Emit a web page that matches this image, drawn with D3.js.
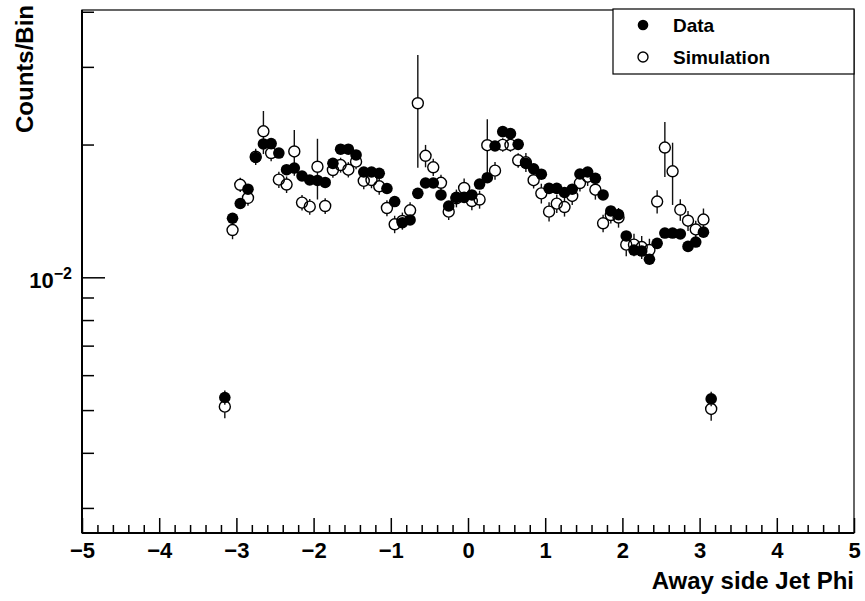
<!DOCTYPE html>
<html>
<head>
<meta charset="utf-8">
<script src="https://cdn.jsdelivr.net/npm/d3@7"></script>
<style>
  html, body { margin: 0; padding: 0; background: #fff; }
  svg { display: block; font-family: "Liberation Sans", Arial, Helvetica, sans-serif; font-weight: bold; }
</style>
</head>
<body>
<svg id="chart" width="865" height="601"></svg>
<script>
// Bin centres of the away-side jet phi histogram (64 bins of width 0.1)
const binCenters = [
  -3.15, -3.05, -2.95, -2.85, -2.75, -2.65, -2.55, -2.45, -2.35, -2.25,
  -2.15, -2.05, -1.95, -1.85, -1.75, -1.65, -1.55, -1.45, -1.35, -1.25,
  -1.15, -1.05, -0.95, -0.85, -0.75, -0.65, -0.55, -0.45, -0.35, -0.25,
  -0.15, -0.05,  0.05,  0.15,  0.25,  0.35,  0.45,  0.55,  0.65,  0.75,
   0.85,  0.95,  1.05,  1.15,  1.25,  1.35,  1.45,  1.55,  1.65,  1.75,
   1.85,  1.95,  2.05,  2.15,  2.25,  2.35,  2.45,  2.55,  2.65,  2.75,
   2.85,  2.95,  3.05,  3.15
];

// Data: counts per bin
const dataValues = [
  0.00534, 0.01361, 0.01470, 0.01584, 0.01869, 0.02006, 0.02010, 0.01913, 0.01754, 0.01769,
  0.01697, 0.01662, 0.01658, 0.01641, 0.01813, 0.01952, 0.01952, 0.01894, 0.01733, 0.01733,
  0.01721, 0.01590, 0.01485, 0.01330, 0.01349, 0.01550, 0.01636, 0.01636, 0.01537, 0.01451,
  0.01518, 0.01518, 0.01537, 0.01627, 0.01682, 0.01985, 0.02139, 0.02117, 0.02002, 0.01813,
  0.01762, 0.01713, 0.01591, 0.01591, 0.01557, 0.01584, 0.01715, 0.01733, 0.01677, 0.01537,
  0.01414, 0.01387, 0.01241, 0.01153, 0.01147, 0.01099, 0.01194, 0.01260, 0.01260, 0.01254,
  0.01175, 0.01202, 0.01266, 0.00530
];
const dataErrors = [
  0.0002, 0.0003, 0.0003, 0.0003, 0.0004, 0.0004, 0.0004, 0.0004, 0.0003, 0.0003,
  0.0003, 0.0003, 0.0003, 0.0003, 0.0003, 0.0004, 0.0004, 0.0003, 0.0003, 0.0003,
  0.0003, 0.0003, 0.0003, 0.0003, 0.0003, 0.0003, 0.0003, 0.0003, 0.0003, 0.0003,
  0.0003, 0.0003, 0.0003, 0.0003, 0.0003, 0.0004, 0.0004, 0.0004, 0.0004, 0.0003,
  0.0003, 0.0003, 0.0003, 0.0003, 0.0003, 0.0003, 0.0003, 0.0003, 0.0003, 0.0003,
  0.0003, 0.0003, 0.0003, 0.0003, 0.0003, 0.0003, 0.0003, 0.0003, 0.0003, 0.0003,
  0.0003, 0.0003, 0.0003, 0.0002
];

// Simulation: counts per bin
const simValues = [
  0.00509, 0.01280, 0.01621, 0.01513, 0.01877, 0.02143, 0.01913, 0.01665, 0.01623, 0.01929,
  0.01477, 0.01446, 0.01781, 0.01451, 0.01751, 0.01797, 0.01754, 0.01829, 0.01654, 0.01662,
  0.01608, 0.01436, 0.01319, 0.01342, 0.01419, 0.02481, 0.01886, 0.01776, 0.01638, 0.01409,
  0.01511, 0.01594, 0.01489, 0.01501, 0.01993, 0.01745, 0.01996, 0.01996, 0.01842, 0.01823,
  0.01660, 0.01550, 0.01409, 0.01469, 0.01443, 0.01529, 0.01636, 0.01691, 0.01580, 0.01326,
  0.01384, 0.01366, 0.01186, 0.01186, 0.01171, 0.01153, 0.01485, 0.01969, 0.01739, 0.01423,
  0.01344, 0.01284, 0.01352, 0.00503
];
const simErrors = [
  0.0003, 0.0006, 0.0006, 0.0006, 0.0008, 0.0024, 0.0008, 0.0007, 0.0007, 0.0023,
  0.0006, 0.0006, 0.0028, 0.0006, 0.0007, 0.0007, 0.0007, 0.0007, 0.0007, 0.0007,
  0.0007, 0.0006, 0.0006, 0.0006, 0.0006, 0.0071, 0.0011, 0.0008, 0.0007, 0.0006,
  0.0007, 0.0008, 0.0007, 0.0007, 0.0029, 0.0008, 0.0007, 0.0007, 0.0007, 0.0009,
  0.0007, 0.0008, 0.0007, 0.0007, 0.0007, 0.0007, 0.0007, 0.0008, 0.0008, 0.0006,
  0.0006, 0.0007, 0.0007, 0.0007, 0.0007, 0.0007, 0.0009, 0.0028, 0.0028, 0.0008,
  0.0007, 0.0006, 0.0008, 0.0003
];

// Axis definitions
const xDomain = [-5, 5];
const xMajorTicks = [-5, -4, -3, -2, -1, 0, 1, 2, 3, 4, 5];
const yDomain = [0.002632, 0.04037];
const yMajorTicks = [0.01];
const yMinorTicks = [0.003, 0.004, 0.005, 0.006, 0.007, 0.008, 0.009, 0.02, 0.03, 0.04];

const seriesNames = ["Data", "Simulation"];
const xTitle = "Away side Jet Phi";
const yTitle = "Counts/Bin";

// Frame geometry
const frame = { left: 82, right: 854, top: 10, bottom: 533 };
const markerR = 5.5;

const svg = d3.select("#chart");

const x = d3.scaleLinear().domain(xDomain).range([frame.left, frame.right]);
const y = d3.scaleLog().domain(yDomain).range([frame.bottom, frame.top]);

// frame box
svg.append("rect")
  .attr("x", frame.left).attr("y", frame.top)
  .attr("width", frame.right - frame.left).attr("height", frame.bottom - frame.top)
  .attr("fill", "#fff").attr("stroke", "#000").attr("stroke-width", 1.2);

// x minor ticks: 5 subdivisions per unit
const xMinorTicks = [];
xMajorTicks.slice(0, -1).forEach(t => { for (let k = 1; k < 5; k++) xMinorTicks.push(+(t + k * 0.2).toFixed(2)); });

const xAxisG = svg.append("g").attr("transform", `translate(0,${frame.bottom})`);
xAxisG.append("g")
  .call(d3.axisBottom(x).tickValues(xMinorTicks).tickSize(-8).tickFormat(""))
  .call(g => g.select(".domain").remove())
  .call(g => g.selectAll("line").attr("stroke-width", 1.5));
xAxisG.append("g")
  .call(d3.axisBottom(x).tickValues(xMajorTicks).tickSize(-15).tickPadding(9).tickFormat(d3.format("d")))
  .call(g => g.select(".domain").remove())
  .call(g => g.selectAll("line").attr("stroke-width", 1.5))
  .call(g => g.selectAll("text").attr("font-size", 22).attr("fill", "#000")
    .attr("font-family", "'Liberation Sans', Arial, sans-serif").attr("font-weight", "bold"));
// bottom axis line
svg.append("line")
  .attr("x1", frame.left).attr("x2", frame.right)
  .attr("y1", frame.bottom).attr("y2", frame.bottom)
  .attr("stroke", "#000").attr("stroke-width", 2);

// y axis
const yAxisG = svg.append("g").attr("transform", `translate(${frame.left},0)`);
yAxisG.append("g")
  .call(d3.axisLeft(y).tickValues(yMinorTicks).tickSize(-12).tickFormat(""))
  .call(g => g.select(".domain").remove())
  .call(g => g.selectAll("line").attr("stroke-width", 1.5));
yAxisG.append("g")
  .call(d3.axisLeft(y).tickValues(yMajorTicks).tickSize(-23).tickFormat(""))
  .call(g => g.select(".domain").remove())
  .call(g => g.selectAll("line").attr("stroke-width", 1.5));
svg.append("line")
  .attr("x1", frame.left).attr("x2", frame.left)
  .attr("y1", frame.top).attr("y2", frame.bottom)
  .attr("stroke", "#000").attr("stroke-width", 2);

// power-of-ten labels
yMajorTicks.forEach(v => {
  const exp = Math.round(Math.log10(v));
  const t = svg.append("text")
    .attr("x", frame.left - 10).attr("y", y(v) + 11)
    .attr("text-anchor", "end").attr("font-size", 22);
  t.append("tspan").text("10");
  t.append("tspan").attr("font-size", 16).attr("dy", -9).text(d3.format("d")(exp));
});

// axis titles
svg.append("text")
  .attr("x", frame.right).attr("y", 589)
  .attr("text-anchor", "end").attr("font-size", 24)
  .text(xTitle);
svg.append("text")
  .attr("transform", `translate(33,5) rotate(-90)`)
  .attr("text-anchor", "end").attr("font-size", 24)
  .text(yTitle);

// error bars drawn outward from the marker edge
function errorSegments(values, errors) {
  const segs = [];
  values.forEach((v, i) => {
    const cx = x(binCenters[i]);
    const cy = y(v);
    const top = y(v + errors[i]);
    const bot = y(Math.max(v - errors[i], yDomain[0]));
    if (cy - top > markerR) segs.push([cx, top, cy - markerR]);
    if (bot - cy > markerR) segs.push([cx, cy + markerR, bot]);
  });
  return segs;
}

const plot = svg.append("g");

// Simulation (open circles)
plot.append("g").selectAll("line")
  .data(errorSegments(simValues, simErrors))
  .join("line")
  .attr("x1", d => d[0]).attr("x2", d => d[0])
  .attr("y1", d => d[1]).attr("y2", d => d[2])
  .attr("stroke", "#111").attr("stroke-width", 1.4);
plot.append("g").selectAll("circle")
  .data(simValues)
  .join("circle")
  .attr("cx", (d, i) => x(binCenters[i]))
  .attr("cy", d => y(d))
  .attr("r", markerR)
  .attr("fill", "none").attr("stroke", "#000").attr("stroke-width", 1.4);

// Data (filled circles)
plot.append("g").selectAll("line")
  .data(errorSegments(dataValues, dataErrors))
  .join("line")
  .attr("x1", d => d[0]).attr("x2", d => d[0])
  .attr("y1", d => d[1]).attr("y2", d => d[2])
  .attr("stroke", "#111").attr("stroke-width", 1.4);
plot.append("g").selectAll("circle")
  .data(dataValues)
  .join("circle")
  .attr("cx", (d, i) => x(binCenters[i]))
  .attr("cy", d => y(d))
  .attr("r", markerR + 0.3)
  .attr("fill", "#000");

// legend
const legend = svg.append("g");
legend.append("rect")
  .attr("x", 613).attr("y", 9).attr("width", 241).attr("height", 65)
  .attr("fill", "#fff").attr("stroke", "#000").attr("stroke-width", 1.2);
const entries = legend.selectAll("g.entry")
  .data(seriesNames)
  .join("g").attr("class", "entry")
  .attr("transform", (d, i) => `translate(0,${25 + i * 32})`);
entries.append("circle")
  .attr("cx", 643).attr("cy", 0).attr("r", (d, i) => i === 0 ? 5.3 : 5)
  .attr("fill", (d, i) => i === 0 ? "#000" : "none")
  .attr("stroke", "#000").attr("stroke-width", (d, i) => i === 0 ? 0 : 1.4);
entries.append("text")
  .attr("x", 673).attr("y", 7)
  .attr("font-size", 19)
  .text(d => d);
</script>
</body>
</html>
